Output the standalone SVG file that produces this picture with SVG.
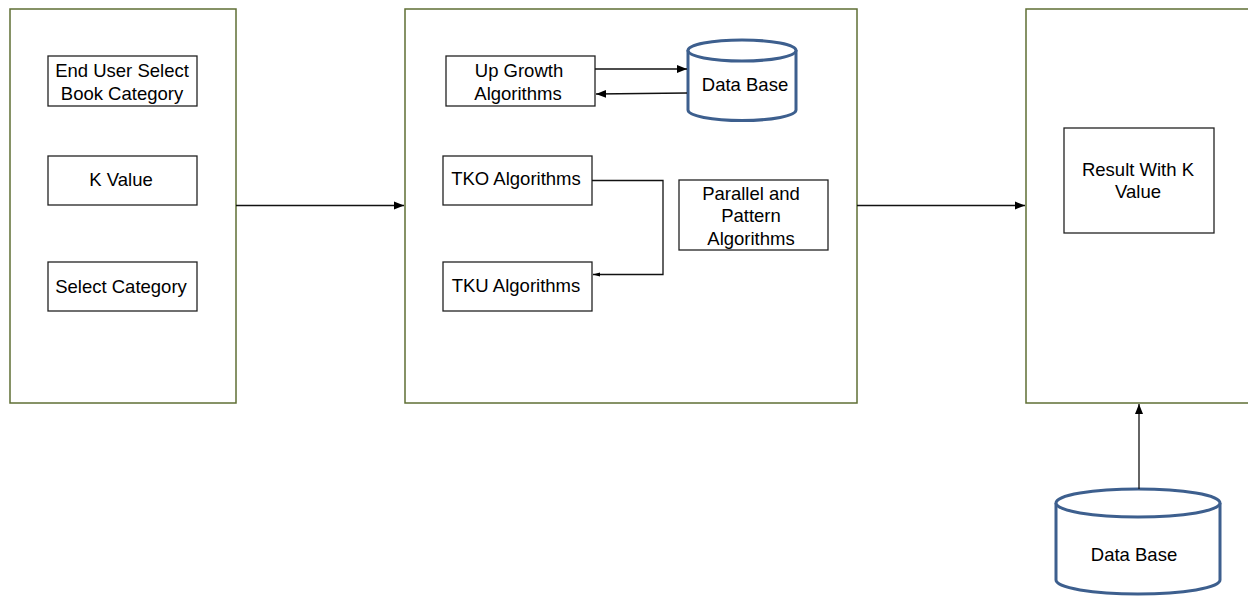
<svg xmlns="http://www.w3.org/2000/svg" width="1248" height="596" viewBox="0 0 1248 596">
<style>
.panel{fill:#fff;stroke:#5f6f34;stroke-width:1.5}
.box{fill:#fff;stroke:#222;stroke-width:1.3}
.db{fill:#fff;stroke:#3d5f8e;stroke-width:3}
.t{font-family:"Liberation Sans",Arial,sans-serif;font-size:18.5px;fill:#000;text-anchor:middle}
.c{fill:none;stroke:#111;stroke-width:1.3}
</style>
<defs>
<marker id="ah" viewBox="0 0 10 10" refX="10" refY="5" markerWidth="10" markerHeight="10" markerUnits="userSpaceOnUse" orient="auto"><path d="M0,1 L10,5 L0,9 Z" fill="#000"/></marker>
<marker id="ahs" viewBox="0 0 10 10" refX="10" refY="5" markerWidth="7" markerHeight="7" markerUnits="userSpaceOnUse" orient="auto"><path d="M0,2 L10,5 L0,8 Z" fill="#000"/></marker>
</defs>
<g id="panel-input">
<rect class="panel" x="10" y="9" width="226" height="394"/>
</g>
<g id="panel-process">
<rect class="panel" x="405" y="9" width="452" height="394"/>
</g>
<g id="panel-output">
<rect class="panel" x="1026" y="9" width="240" height="394"/>
</g>
<g id="end-user">
<rect class="box" x="48" y="56" width="149" height="50"/>
<text class="t" x="122" y="77">End User Select</text>
<text class="t" x="122" y="100">Book Category</text>
</g>
<g id="k-value">
<rect class="box" x="48" y="156" width="149" height="49"/>
<text class="t" x="121" y="186">K Value</text>
</g>
<g id="select-category">
<rect class="box" x="48" y="262" width="149" height="49"/>
<text class="t" x="121" y="293">Select Category</text>
</g>
<g id="up-growth">
<rect class="box" x="446" y="56" width="149" height="50"/>
<text class="t" x="519" y="77">Up Growth</text>
<text class="t" x="518" y="100">Algorithms</text>
</g>
<g id="db-middle">
<path class="db" d="M688,50 L688,110 A54,10.5 0 0 0 796,110 L796,50"/>
<ellipse class="db" cx="742" cy="50.5" rx="54" ry="10.5"/>
<text class="t" x="745" y="91">Data Base</text>
</g>
<g id="tko">
<rect class="box" x="443" y="156" width="149" height="49"/>
<text class="t" x="516" y="185">TKO Algorithms</text>
</g>
<g id="tku">
<rect class="box" x="443" y="262" width="149" height="49"/>
<text class="t" x="516" y="292">TKU Algorithms</text>
</g>
<g id="parallel">
<rect class="box" x="679" y="180" width="149" height="70"/>
<text class="t" x="751" y="200">Parallel and</text>
<text class="t" x="751" y="222">Pattern</text>
<text class="t" x="751" y="245">Algorithms</text>
</g>
<g id="result">
<rect class="box" x="1064" y="128" width="150" height="105"/>
<text class="t" x="1138" y="176">Result With K</text>
<text class="t" x="1138" y="198">Value</text>
</g>
<g id="db-bottom">
<path class="db" d="M1056,503 L1056,580 A82,14 0 0 0 1220,580 L1220,503"/>
<ellipse class="db" cx="1138" cy="503" rx="82" ry="14"/>
<text class="t" x="1134" y="561">Data Base</text>
</g>
<g id="connectors">
<line class="c" x1="236" y1="205.5" x2="404" y2="205.5" marker-end="url(#ah)"/>
<line class="c" x1="857" y1="205.5" x2="1025" y2="205.5" marker-end="url(#ah)"/>
<line class="c" x1="595" y1="69" x2="687" y2="69" marker-end="url(#ah)"/>
<line class="c" x1="687" y1="93" x2="596" y2="94" marker-end="url(#ah)"/>
<polyline class="c" points="592,180.5 663,180.5 663,274.5 593,274.5" marker-end="url(#ahs)"/>
<line class="c" x1="1139" y1="489" x2="1139" y2="404" marker-end="url(#ah)"/>
</g>
</svg>
